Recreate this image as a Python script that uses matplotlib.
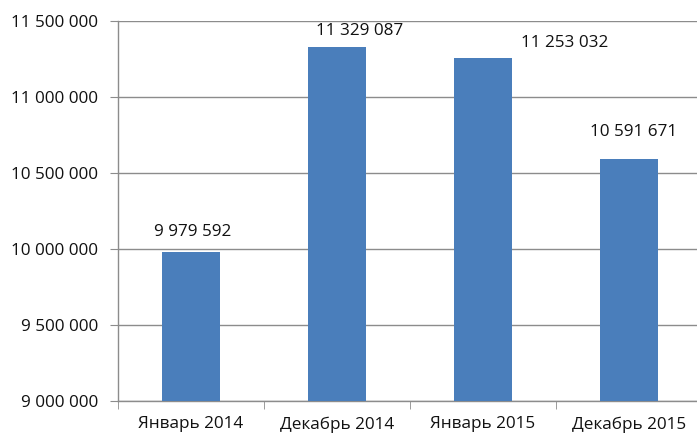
import matplotlib
matplotlib.use("Agg")
import matplotlib.pyplot as plt
from matplotlib.ticker import FixedLocator, FuncFormatter

categories = ["Январь 2014", "Декабрь 2014", "Январь 2015", "Декабрь 2015"]
values = [9979592, 11329087, 11253032, 10591671]
yticks = [9000000, 9500000, 10000000, 10500000, 11000000, 11500000]
# label offsets in points (dx, dy) relative to bar top center
label_offsets = [(1.5, 14.5), (16, 11), (59, 11), (3, 19.5)]

plt.rcParams['font.family'] = ['Open Sans', 'DejaVu Sans']
FS = 12.3
TXT = "#111111"

def fmt(v):
    return f"{int(v):,}".replace(",", " ")

fig = plt.figure(figsize=(6.97, 4.34), dpi=100)
ax = fig.add_axes([118/697, 33/434, (702-118)/697, (401-20.5)/434])

x = list(range(len(categories)))
ax.bar(x, values, width=0.4, color="#4A7EBB", zorder=3)
ax.set_xlim(-0.5, 3.5)
ax.set_ylim(9000000, 11500000)
ax.yaxis.set_major_locator(FixedLocator(yticks))
ax.yaxis.set_major_formatter(FuncFormatter(lambda v, p: fmt(v)))
ax.set_xticks(x)
ax.set_xticklabels(categories)
ax.set_xticks([i - 0.5 for i in range(len(categories) + 1)], minor=True)

ax.grid(axis='y', color="#8C8C8C", linewidth=1.0, zorder=0)
for s in ['top', 'right']:
    ax.spines[s].set_visible(False)
for s in ['left', 'bottom']:
    ax.spines[s].set_color("#8C8C8C")
    ax.spines[s].set_linewidth(1.0)

ax.tick_params(axis='y', which='major', length=6, color="#8C8C8C", labelsize=FS,
               labelcolor=TXT, pad=8.5)
ax.tick_params(axis='x', which='major', length=0, labelsize=FS, labelcolor=TXT, pad=11)
ax.tick_params(axis='x', which='minor', length=6, color="#8C8C8C")

for xi, v, (dx, dy) in zip(x, values, label_offsets):
    ax.annotate(fmt(v), xy=(xi, v), xytext=(dx, dy), textcoords='offset points',
                ha='center', va='center', fontsize=FS, color=TXT)

fig.savefig("out.png", dpi=100)
